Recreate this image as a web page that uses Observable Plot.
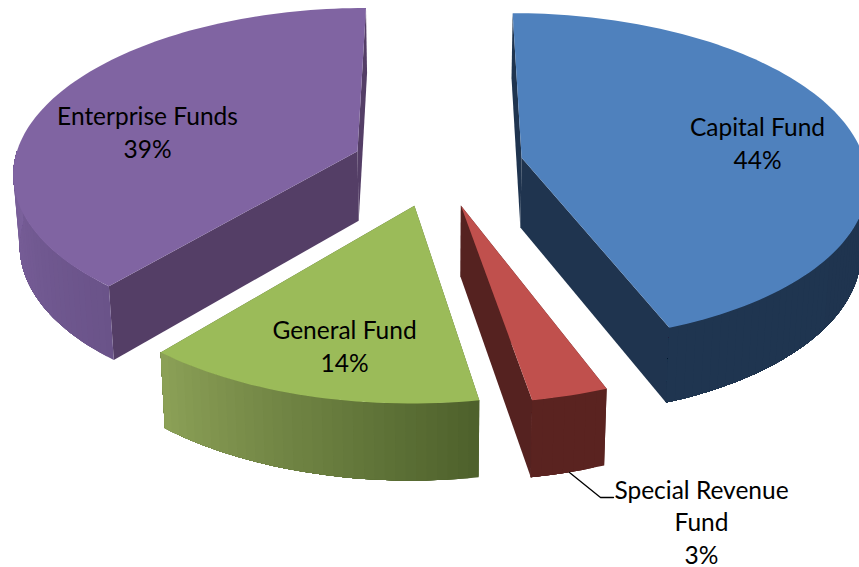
<!DOCTYPE html>
<html><head><meta charset="utf-8">
<style>html,body{margin:0;padding:0;background:#fff}svg{display:block}</style>
<script src="https://cdn.jsdelivr.net/npm/d3@7"></script>
<script src="https://cdn.jsdelivr.net/npm/@observablehq/plot@0.6"></script>
</head><body><div id="chart"></div>
<script>
// Data
const categories = ["Capital Fund", "Special Revenue Fund", "General Fund", "Enterprise Funds"];
const shares = [44.2, 3.1, 13.8, 38.9];
const labels = ["Capital Fund\n44%", "Special Revenue\nFund\n3%", "General Fund\n14%", "Enterprise Funds\n39%"];
const labelX = [757, 701, 344, 147];
const labelY = [141.5, 520.5, 344.5, 130.5];
const topColors = ["#4F81BD", "#C0504D", "#9BBB59", "#8064A2"];
const radialColors = ["#1F344F", "#552220", "#4F632D", "#543E66"];
const wallFrom = ["#1F344F", "#5A2320", "#4D602B", "#6A5389"];
const wallTo = ["#1F3550", "#5A2320", "#8CA157", "#7B619C"];
const drawOrder = [3, 0, 2, 1];
const leaderX = [569, 600, 613], leaderY = [472, 497, 497];

// 3D view of the pie: an extruded disc seen in perspective
const cx = 437, cy = 164.5, A = 344, B = 163.5, k = 0.12, H = 70, shrink = 0.985, explode = 0.25;
const rad = d => d * Math.PI / 180;
function project(u, v, bottom) {
  const s = 1 / (1 + k * v);
  let x = A * u * s, y = -B * v * s;
  if (bottom) { x *= shrink; y += H * Math.pow(s, 0.6); }
  return {x: cx + x, y: cy + y};
}
const total = d3.sum(shares);
let acc = 0;
const slices = shares.map((v, i) => {
  const a0 = acc / total * 360; acc += v; const a1 = acc / total * 360;
  const mid = (a0 + a1) / 2;
  return {i, a0, a1, ox: explode * Math.sin(rad(mid)), oy: explode * Math.cos(rad(mid))};
});
const rim = (sl, a, bottom) => project(sl.ox + Math.sin(rad(a)), sl.oy + Math.cos(rad(a)), bottom);
const apex = (sl, bottom) => project(sl.ox, sl.oy, bottom);

const polys = [];
let id = 0;
const add = (pts, fill) => { id++; pts.forEach(p => polys.push({...p, id, fill})); };
for (const o of drawOrder) {
  const sl = slices[o];
  // radial walls
  for (const a of [sl.a0, sl.a1]) {
    add([apex(sl), rim(sl, a), rim(sl, a, true), apex(sl, true)], radialColors[o]);
  }
  // outer wall, in shaded overlapping strips; only the front half (90..270 deg) is ever visible
  const lo = Math.max(sl.a0, 90), hi = Math.min(sl.a1, 270);
  const steps = Math.max(2, Math.round((hi - lo) / 1.5));
  const col = d3.interpolateRgb(wallFrom[o], wallTo[o]);
  for (let j = 0; j < steps; j++) {
    const b0 = lo + (hi - lo) * j / steps, b1 = hi;
    const pts = [];
    for (let m = 0; m <= steps - j; m++) pts.push(rim(sl, b0 + (b1 - b0) * m / (steps - j)));
    for (let m = steps - j; m >= 0; m--) pts.push(rim(sl, b0 + (b1 - b0) * m / (steps - j), true));
    add(pts, col((j + 0.5) / steps));
  }
  // top face
  const top = [apex(sl)];
  const n = Math.round((sl.a1 - sl.a0) / 1.5) + 1;
  for (let j = 0; j <= n; j++) top.push(rim(sl, sl.a0 + (sl.a1 - sl.a0) * j / n));
  add(top, topColors[o]);
}
const labelRows = labels.map((t, i) => ({t, x: labelX[i], y: labelY[i], name: categories[i]}));
const leader = leaderX.map((x, i) => ({x, y: leaderY[i]}));

const plot = Plot.plot({
  width: 859, height: 567, margin: 0,
  x: {domain: [0, 859], range: [0, 859], axis: null},
  y: {domain: [0, 567], range: [0, 567], axis: null},
  color: {type: "identity"},
  style: {background: "#fff", overflow: "hidden"},
  marks: [
    Plot.line(polys, {x: "x", y: "y", z: "id", fill: "fill", stroke: "none", curve: "linear-closed"}),
    Plot.line(leader, {x: "x", y: "y", stroke: "#000", strokeWidth: 1.3}),
    Plot.text(labelRows, {x: "x", y: "y", text: "t", fontSize: 24.5, lineHeight: 1.32, fontFamily: "Lato, 'Open Sans', sans-serif", fill: "#000", textAnchor: "middle"})
  ]
});
document.getElementById("chart").appendChild(plot);
</script></body></html>
